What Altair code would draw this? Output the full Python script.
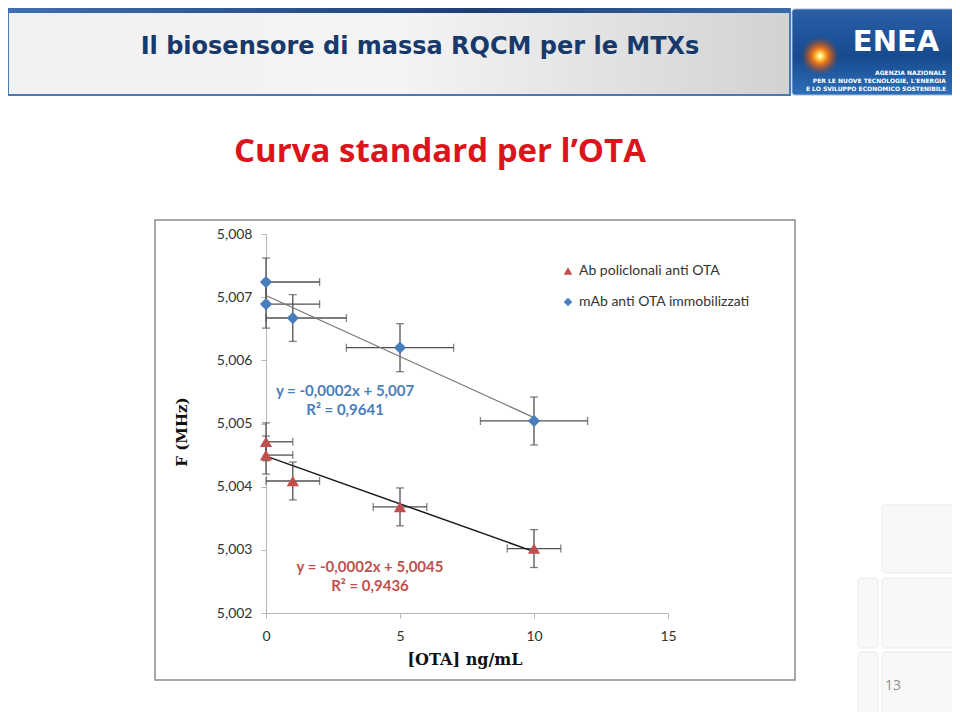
import altair as alt
import pandas as pd

# ---------------- data ----------------
series_names = ["Ab policlonali anti OTA", "mAb anti OTA immobilizzati"]
ota_conc = [0, 0, 1, 5, 10]
freq_mab = [5.00724, 5.00689, 5.00667, 5.00620, 5.00504]
freq_mab_err = [0.00038, 0.00038, 0.00037, 0.00038, 0.00038]
conc_mab_err = [2, 2, 2, 2, 2]
freq_ab = [5.00471, 5.00450, 5.00409, 5.00368, 5.00302]
freq_ab_err = [0.00030, 0.00030, 0.00030, 0.00030, 0.00030]
conc_ab_err = [1, 1, 1, 1, 1]
y_ticks = [5.002, 5.003, 5.004, 5.005, 5.006, 5.007, 5.008]
x_ticks = [0, 5, 10, 15]
eq_mab = ["y = -0,0002x + 5,007", "R² = 0,9641"]
eq_ab = ["y = -0,0002x + 5,0045", "R² = 0,9436"]

rows = []
for x, y, ye, xe in zip(ota_conc, freq_ab, freq_ab_err, conc_ab_err):
    rows.append({"x": x, "y": y, "yerr": ye, "xerr": xe, "series": series_names[0]})
for x, y, ye, xe in zip(ota_conc, freq_mab, freq_mab_err, conc_mab_err):
    rows.append({"x": x, "y": y, "yerr": ye, "xerr": xe, "series": series_names[1]})
df = pd.DataFrame(rows)

BLUE = "#4a7ebb"
RED = "#c0504d"
ERR = "#505050"
LABEL_FONT = "Lato"

xs = alt.Scale(domain=[0, 15], nice=False, zero=False)
ys = alt.Scale(domain=[5.002, 5.008], nice=False, zero=False)

base = alt.Chart(df).transform_calculate(
    ylo="datum.y - datum.yerr",
    yhi="datum.y + datum.yerr",
    xlo="max(0, datum.x - datum.xerr)",
    xhi="datum.x + datum.xerr",
)

dummy = pd.DataFrame({"a": [0]})


def rect(x, x2, y, y2, **kw):
    return alt.Chart(dummy).mark_rect(**kw).encode(
        x=alt.value(x), x2=alt.value(x2), y=alt.value(y), y2=alt.value(y2))


def label(txt, x, y, **kw):
    return alt.Chart(dummy).mark_text(text=txt, **kw).encode(
        x=alt.value(x), y=alt.value(y))


# ---------------- slide decorations ----------------
bar_grad = alt.LinearGradient(
    gradient="linear", x1=0, x2=1, y1=0, y2=0,
    stops=[alt.GradientStop(color="#f1f1f1", offset=0),
           alt.GradientStop(color="#f4f4f4", offset=0.5),
           alt.GradientStop(color="#d2d2d2", offset=1)])
top_grad = alt.LinearGradient(
    gradient="linear", x1=0, x2=1, y1=0, y2=0,
    stops=[alt.GradientStop(color="#3f6fb0", offset=0),
           alt.GradientStop(color="#1d3f74", offset=0.6),
           alt.GradientStop(color="#3a6aa8", offset=1)])
logo_grad = alt.LinearGradient(
    gradient="linear", x1=0, x2=0, y1=0, y2=1,
    stops=[alt.GradientStop(color="#2a5fa8", offset=0),
           alt.GradientStop(color="#174a8e", offset=0.55),
           alt.GradientStop(color="#2f6fb8", offset=1)])
glow = alt.RadialGradient(
    gradient="radial", x1=0.5, y1=0.5, r1=0, x2=0.5, y2=0.5, r2=0.5,
    stops=[alt.GradientStop(color="#ffffff", offset=0),
           alt.GradientStop(color="#ffe060", offset=0.15),
           alt.GradientStop(color="#f07818", offset=0.4),
           alt.GradientStop(color="rgba(200,60,0,0)", offset=1)])

title_bar = rect(-258, 524, -226, -139, fill=bar_grad, stroke="#4a78b8", strokeWidth=2)
title_top = rect(-258, 524, -226, -221, fill=top_grad)
title_txt = label("Il biosensore di massa RQCM per le MTXs", 154, -187,
                  font="DejaVu Sans", fontSize=24, fontWeight="bold",
                  color="#17396b", align="center", baseline="middle")

logo_box = rect(526, 689, -225, -139, fill=logo_grad, stroke="#9fb8d8",
                strokeWidth=1, cornerRadius=3)
logo_glow = alt.Chart(dummy).mark_point(
    shape="circle", filled=True, fill=glow, size=1400, opacity=1, strokeWidth=0
).encode(x=alt.value(554), y=alt.value(-178))
logo_enea = label("ENEA", 630, -192, font="DejaVu Sans", fontSize=29,
                  fontWeight="bold", color="white", align="center",
                  baseline="middle")
logo_l1 = label("AGENZIA NAZIONALE", 680, -161, font="DejaVu Sans", fontSize=6,
                fontWeight="bold", color="white", align="right", baseline="middle")
logo_l2 = label("PER LE NUOVE TECNOLOGIE, L'ENERGIA", 680, -153, font="DejaVu Sans",
                fontSize=6, fontWeight="bold", color="white", align="right", baseline="middle")
logo_l3 = label("E LO SVILUPPO ECONOMICO SOSTENIBILE", 680, -145, font="DejaVu Sans",
                fontSize=6, fontWeight="bold", color="white", align="right", baseline="middle")

subtitle = label("Curva standard per l’OTA", 174, -82, font="Open Sans", fontSize=33,
                 fontWeight="bold", color="#dc141c", align="center", baseline="middle")

frame = rect(-111, 529, -14, 446, fillOpacity=0, stroke="#8a8a8a", strokeWidth=1.5)

sq_style = dict(fill="#f8f8f8", stroke="#f0f0f0", strokeWidth=1.5, cornerRadius=4)
squares = (rect(616, 689, 271, 339, **sq_style) + rect(616, 689, 344, 414, **sq_style)
           + rect(616, 689, 418, 484, **sq_style) + rect(592, 612, 344, 414, **sq_style)
           + rect(592, 612, 418, 484, **sq_style))
page_no = label("13", 627, 452, font="Open Sans", fontSize=14, color="#8c8c8c",
                align="center", baseline="middle")

y_title = label("F (MHz)", -84, 198, font="DejaVu Serif", fontSize=15, fontWeight="bold",
                color="#111111", align="center", baseline="middle", angle=270)
x_title = label("[OTA] ng/mL", 199, 426, font="DejaVu Serif", fontSize=16, fontWeight="bold",
                color="#111111", align="center", baseline="middle")

# ---------------- chart ----------------
X = alt.X("x:Q", scale=xs, axis=alt.Axis(values=x_ticks, title=None, labelPadding=11,
                                         labelFlush=False))
Y = alt.Y("y:Q", scale=ys, axis=alt.Axis(
    values=y_ticks, title=None, labelPadding=9, labelFlush=False,
    labelExpr="replace(format(datum.value, '.3f'), '.', ',')"))

vbars = base.mark_rule(color=ERR, strokeWidth=1.3).encode(
    x=alt.X("x:Q", scale=xs), y=alt.Y("ylo:Q", scale=ys), y2="yhi:Q")
hbars = base.mark_rule(color=ERR, strokeWidth=1.3).encode(
    y=alt.Y("y:Q", scale=ys), x=alt.X("xlo:Q", scale=xs), x2="xhi:Q")
cap_lo = base.mark_tick(orient="horizontal", size=8, thickness=1.3, color=ERR).encode(
    x=alt.X("x:Q", scale=xs), y=alt.Y("ylo:Q", scale=ys))
cap_hi = base.mark_tick(orient="horizontal", size=8, thickness=1.3, color=ERR).encode(
    x=alt.X("x:Q", scale=xs), y=alt.Y("yhi:Q", scale=ys))
cap_l = base.mark_tick(orient="vertical", size=8, thickness=1.3, color=ERR).encode(
    x=alt.X("xlo:Q", scale=xs), y=alt.Y("y:Q", scale=ys))
cap_r = base.mark_tick(orient="vertical", size=8, thickness=1.3, color=ERR).encode(
    x=alt.X("xhi:Q", scale=xs), y=alt.Y("y:Q", scale=ys))

trend_mab = alt.Chart(df).transform_filter(
    alt.datum.series == series_names[1]
).transform_regression("x", "y", extent=[0, 10]).mark_line(
    color="#7a7a7a", strokeWidth=1.3).encode(x=alt.X("x:Q", scale=xs), y=alt.Y("y:Q", scale=ys))
trend_ab = alt.Chart(df).transform_filter(
    alt.datum.series == series_names[0]
).transform_regression("x", "y", extent=[0, 10]).mark_line(
    color="#1a1a1a", strokeWidth=1.5).encode(x=alt.X("x:Q", scale=xs), y=alt.Y("y:Q", scale=ys))

legend = alt.Legend(orient="none", legendX=295, legendY=30, title=None,
                    labelFont=LABEL_FONT, labelFontSize=14, labelLimit=400,
                    labelColor="#333333", symbolSize=75, rowPadding=17, padding=0)
points = alt.Chart(df).mark_point(filled=True, size=150, opacity=1).encode(
    x=X, y=Y,
    color=alt.Color("series:N", scale=alt.Scale(domain=series_names, range=[RED, BLUE]),
                    legend=legend),
    shape=alt.Shape("series:N", scale=alt.Scale(domain=series_names,
                                                range=["triangle-up", "diamond"]),
                    legend=legend),
)

eq_mab_df = pd.DataFrame({"x": [2.95, 2.95], "y": [5.00552, 5.00522], "t": eq_mab})
eq_ab_df = pd.DataFrame({"x": [3.88, 3.88], "y": [5.00273, 5.00243], "t": eq_ab})
eq_mab_text = alt.Chart(eq_mab_df).mark_text(
    font=LABEL_FONT, fontSize=15, fontWeight="bold", align="center",
    baseline="middle", color=BLUE).encode(
    x=alt.X("x:Q", scale=xs), y=alt.Y("y:Q", scale=ys), text="t:N")
eq_ab_text = alt.Chart(eq_ab_df).mark_text(
    font=LABEL_FONT, fontSize=15, fontWeight="bold", align="center",
    baseline="middle", color=RED).encode(
    x=alt.X("x:Q", scale=xs), y=alt.Y("y:Q", scale=ys), text="t:N")

chart = alt.layer(
    title_bar, title_top, title_txt, logo_box, logo_glow, logo_enea, logo_l1, logo_l2, logo_l3,
    subtitle, frame, squares, page_no, y_title, x_title,
    vbars, hbars, cap_lo, cap_hi, cap_l, cap_r, trend_mab, trend_ab, points,
    eq_mab_text, eq_ab_text,
).properties(
    width=402, height=379,
    autosize=alt.AutoSizeParams(type="none"),
    padding={"left": 258, "top": 226, "right": 284, "bottom": 99},
    background="white",
).configure_view(strokeWidth=0).configure_axis(
    grid=False, domainColor="#b5b5b5", tickColor="#b5b5b5", tickSize=5,
    labelFont=LABEL_FONT, labelFontSize=14, labelColor="#333333",
)

chart.save("out.html", embed_options={"renderer": "svg", "actions": False})
